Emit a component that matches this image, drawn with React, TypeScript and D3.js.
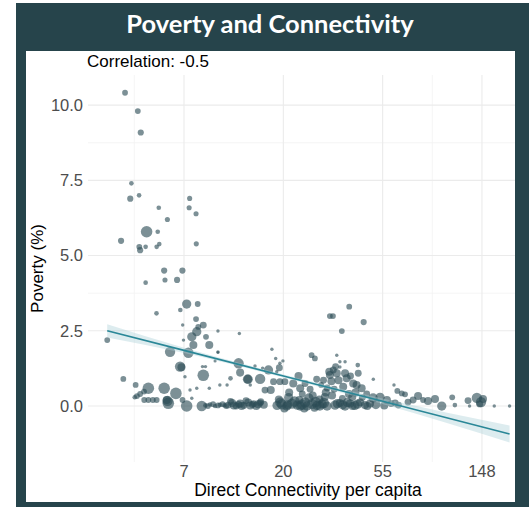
import React from 'react';
import * as d3 from 'd3';

const W = 529;
const H = 515;

// Each row: [direct connectivity per capita, poverty (%), population (millions)]
type Row = [number, number, number];

const highPoverty: Row[] = [
  [4.08, 10.41, 1.4], [4.64, 9.8, 1.4], [4.78, 9.09, 1.6], [4.35, 7.4, 0.9],
  [4.3, 6.89, 1.6], [4.7, 7.0, 0.9], [5.73, 6.59, 0.9], [6.25, 6.2, 1.1],
  [5.07, 5.79, 5.6], [5.67, 5.79, 0.9], [3.92, 5.49, 1.6], [4.71, 5.29, 1.4],
  [4.75, 5.18, 1.6], [5.02, 5.29, 0.9], [5.61, 5.29, 0.9], [5.76, 5.38, 0.9],
  [7.82, 6.9, 1.1], [7.78, 6.59, 1.1], [8.34, 6.39, 1.1], [8.36, 5.39, 1.1],
  [6.05, 4.5, 1.6], [7.27, 4.5, 1.6], [6.1, 4.19, 1.1], [6.89, 4.19, 1.6],
  [5.02, 4.1, 0.9], [7.59, 3.39, 3.6], [8.48, 3.39, 1.4], [7.12, 3.19, 0.9],
  [5.6, 3.08, 0.9], [32.1, 2.99, 1.4], [33.1, 2.99, 1.4], [39.0, 3.3, 1.4],
  [45.1, 2.79, 1.6], [36.2, 2.49, 1.4],
];

const midPoverty: Row[] = [
  [8.34, 2.89, 1.4], [7.29, 2.69, 0.5], [8.97, 2.69, 2.0], [8.53, 2.63, 1.4],
  [8.4, 2.47, 3.6], [7.99, 2.3, 3.6], [9.22, 2.3, 1.4], [7.35, 2.19, 0.5],
  [9.53, 2.03, 2.7], [8.12, 2.03, 2.7], [6.42, 1.8, 4.5], [7.72, 1.77, 4.5],
  [10.4, 1.8, 0.5], [7.1, 1.31, 4.5], [7.2, 1.29, 2.7], [3.41, 2.19, 1.4],
  [4.01, 0.9, 1.4], [8.9, 1.31, 0.5], [9.17, 1.31, 0.5], [8.97, 1.02, 5.6],
  [12.8, 1.42, 4.5], [13.0, 1.11, 2.7], [14.0, 0.89, 3.6], [14.1, 0.89, 3.6],
  [15.9, 0.9, 4.5], [12.9, 2.41, 0.5], [10.4, 2.49, 0.5], [10.1, 1.5, 0.4],
  [10.4, 1.78, 0.4], [7.46, 0.97, 0.5], [11.8, 0.92, 0.9], [14.4, 0.7, 0.5],
];

const lowPovertyLeft: Row[] = [
  [4.54, 0.7, 1.4], [5.16, 0.59, 5.6], [6.05, 0.59, 5.6], [6.81, 0.42, 5.6],
  [4.94, 0.48, 1.4], [4.75, 0.4, 1.4], [4.6, 0.33, 1.4], [4.5, 0.29, 0.9],
  [4.95, 0.2, 1.4], [5.16, 0.2, 1.4], [5.4, 0.2, 1.4], [5.61, 0.2, 1.4],
  [6.21, 0.2, 2.7], [6.31, 0.09, 5.6], [6.26, 0.17, 4.5], [7.28, 0.2, 1.4],
  [7.59, 0.0, 5.6], [8.83, 0.0, 4.5], [7.85, 0.53, 0.5], [8.4, 0.59, 0.5],
  [9.53, 0.59, 0.5], [10.6, 0.7, 0.5], [11.4, 0.7, 0.5], [7.99, 0.26, 0.5],
];

const midCluster: Row[] = [
  [17.9, 1.89, 0.5], [19.3, 1.27, 2.0], [17.3, 1.2, 3.6], [18.8, 1.14, 0.5],
  [19.4, 1.42, 0.5], [20.0, 1.5, 0.5], [18.6, 1.58, 0.5], [23.4, 1.0, 2.7],
  [26.7, 1.69, 1.4], [27.6, 1.58, 1.4], [18.2, 0.81, 2.0], [19.4, 0.81, 2.0],
  [20.4, 0.81, 2.0], [22.2, 0.75, 2.7], [23.8, 0.59, 2.7], [25.0, 0.75, 2.0],
  [26.3, 0.56, 2.0], [28.1, 0.89, 2.0], [31.9, 1.14, 2.7], [32.1, 1.03, 2.7],
  [34.4, 1.09, 2.7], [37.4, 1.09, 2.7], [38.0, 0.92, 2.7], [35.5, 1.47, 0.5],
  [37.4, 1.47, 0.5], [42.5, 1.36, 0.9], [42.7, 1.09, 2.0], [34.4, 1.69, 0.5],
  [35.0, 0.86, 2.7], [36.7, 0.64, 2.7], [40.6, 0.75, 2.7], [42.0, 0.7, 2.7],
  [44.2, 0.59, 2.7], [30.1, 0.86, 2.0], [31.2, 0.6, 2.0], [33.5, 0.56, 2.0],
  [29.4, 0.7, 1.4], [35.5, 1.3, 0.5], [34.0, 1.31, 2.0], [15.1, 1.33, 0.5],
  [16.3, 1.26, 0.5], [16.7, 0.53, 2.0], [17.7, 0.53, 2.7],
  [30.8, 0.45, 2.7], [32.8, 0.35, 2.7], [38.9, 0.4, 2.7], [41.5, 0.45, 2.7],
  [46.5, 0.4, 2.0], [21.3, 0.45, 2.7], [24.3, 0.4, 2.0], [27.0, 0.35, 2.7],
  [32.6, 0.82, 2.7], [39.5, 1.0, 2.0], [33.2, 1.2, 2.0],
];

const zeroBand: Row[] = [
  [9.17, 0.02, 0.9], [9.6, 0.05, 0.9], [10.1, 0.0, 0.9], [10.6, 0.04, 0.9], [11.1, 0.02, 0.9],
  [9.4, 0.0, 1.4], [9.9, 0.06, 1.4], [10.4, 0.02, 1.4], [10.9, 0.06, 1.4], [11.3, 0.0, 1.4],
  [11.5, 0.03, 2.0], [12.0, 0.1, 2.7], [12.5, 0.0, 2.0], [13.0, 0.08, 2.7], [13.5, 0.02, 2.0],
  [14.1, 0.12, 2.7], [14.7, 0.05, 2.0], [15.3, 0.0, 2.7], [15.9, 0.1, 2.0], [16.5, 0.04, 2.7],
  [11.8, 0.15, 2.0], [12.8, 0.05, 2.0], [13.8, 0.18, 2.0], [14.9, 0.08, 2.0], [16.0, 0.14, 2.0],
  [12.2, 0.02, 2.7], [13.2, 0.0, 2.7], [14.4, 0.02, 2.7], [15.6, 0.06, 2.7],
  [18.85, 0.02, 3.6], [19.8, 0.06, 4.5], [20.8, 0.0, 3.6], [21.9, 0.08, 4.5], [23.1, 0.03, 3.6],
  [24.2, 0.05, 4.5], [25.5, 0.0, 3.6], [26.8, 0.07, 4.5], [28.2, 0.02, 3.6], [29.7, 0.06, 3.6],
  [31.2, 0.0, 3.6], [19.2, 0.22, 2.7], [21.2, 0.28, 3.6], [23.6, 0.2, 2.7], [26.0, 0.27, 3.6],
  [28.9, 0.22, 2.7], [30.5, 0.3, 2.7], [20.3, -0.08, 2.7], [24.8, -0.08, 2.7], [27.5, -0.06, 2.7],
  [19.5, 0.12, 4.5], [22.5, 0.15, 4.5], [25.0, 0.12, 4.5], [27.8, 0.14, 4.5], [30.2, 0.1, 4.5],
  [21.0, 0.04, 3.6], [23.8, 0.0, 3.6], [29.0, 0.0, 3.6],
  [33.8, 0.03, 3.6], [35.5, 0.1, 2.7], [37.4, 0.0, 3.6], [39.3, 0.08, 2.7], [41.3, 0.02, 3.6],
  [43.5, 0.12, 2.7], [45.7, 0.03, 2.7], [48.1, 0.08, 2.7], [36.4, 0.25, 2.0], [40.2, 0.3, 2.7],
  [44.5, 0.28, 2.0], [34.6, 0.08, 3.6], [36.5, 0.04, 3.6], [38.3, 0.12, 3.6], [40.3, 0.0, 2.7],
  [42.4, 0.06, 3.6], [46.8, 0.0, 2.7],
];

const rightTail: Row[] = [
  [49.7, 0.89, 0.5], [61.2, 0.7, 0.5], [63.3, 0.5, 1.4], [66.2, 0.42, 1.4],
  [68.4, 0.39, 1.4], [53.2, 0.29, 3.6], [49.6, 0.27, 3.6], [57.0, 0.2, 2.7],
  [61.9, 0.1, 2.0], [70.5, 0.13, 2.0], [74.2, 0.2, 2.0], [78.0, 0.33, 2.7],
  [82.0, 0.2, 1.4], [86.2, 0.17, 2.7], [92.5, 0.23, 2.7], [99.0, 0.0, 3.6],
  [110, 0.29, 1.4], [113, 0.03, 0.9], [129, 0.18, 2.0], [131, 0.0, 0.5],
  [141, 0.27, 4.5], [147, 0.13, 4.5], [150, 0.23, 2.7], [145, 0.07, 2.0],
  [168, 0.0, 0.5], [196, 0.0, 0.5], [51.0, 0.05, 3.6], [55.5, 0.02, 2.7],
  [59.5, 0.08, 2.0], [64.0, 0.03, 2.0],
];

// Linear fit (poverty ~ log connectivity) with its confidence band
const fitConnectivity = [3.41, 7.39, 20.1, 54.6, 196];
const fitPoverty = [2.5, 1.85, 1.0, 0.16, -0.93];
const fitLower = [2.28, 1.76, 0.95, 0.07, -1.21];
const fitUpper = [2.72, 1.94, 1.05, 0.25, -0.65];

const xDomain = [2.81, 207];
const yDomain = [-1.86, 11.0];
const xTicks = [7.389, 20.09, 54.6, 148.4];
const xTickLabels = ['7', '20', '55', '148'];
const xMinorTicks = [4.48, 90.0];
const yTicks = [0, 2.5, 5, 7.5, 10];
const yTickLabels = ['0.0', '2.5', '5.0', '7.5', '10.0'];
const yMinorTicks = [3.75, 8.75];

const title = 'Poverty and Connectivity';
const correlationLabel = 'Correlation: -0.5';
const xTitle = 'Direct Connectivity per capita';
const yTitle = 'Poverty (%)';

export default function App() {
  const left = 88, right = 515, top = 75, bottom = 462;
  const x = d3.scaleLog().base(Math.E).domain(xDomain).range([left, right]);
  const y = d3.scaleLinear().domain(yDomain).range([bottom, top]);
  const r = d3.scaleSqrt().domain([0, 8]).range([0, 6.9]);

  const points: Row[] = [
    ...highPoverty, ...midPoverty, ...lowPovertyLeft, ...midCluster, ...zeroBand, ...rightTail,
  ];

  const idx = fitConnectivity.map((_, i) => i);
  const band = d3.area<number>()
    .x(i => x(fitConnectivity[i]))
    .y0(i => y(fitLower[i]))
    .y1(i => y(fitUpper[i]))
    .curve(d3.curveMonotoneX)(idx) || '';
  const fitLine = d3.line<number>()
    .x(i => x(fitConnectivity[i]))
    .y(i => y(fitPoverty[i]))(idx) || '';

  const sans = '"Liberation Sans", Arial, sans-serif';

  return (
    <svg width={W} height={H} style={{ position: 'absolute', left: 0, top: 0, display: 'block' }}>
      <rect x={0} y={0} width={W} height={H} fill="#ffffff" />
      <rect x={16} y={3} width={W - 16} height={504} fill="#26444b" />
      <rect x={26} y={51} width={489} height={451} fill="#ffffff" />
      <text x={270} y={33} textAnchor="middle" fill="#ffffff"
        style={{ font: '700 25.5px Lato, "Open Sans", sans-serif' }}>{title}</text>

      {/* grid */}
      {yMinorTicks.map(t => (
        <line key={'ym' + t} x1={left} x2={right} y1={y(t)} y2={y(t)} stroke="#f2f2f2" strokeWidth={0.8} />
      ))}
      {xMinorTicks.map(t => (
        <line key={'xm' + t} x1={x(t)} x2={x(t)} y1={top} y2={bottom} stroke="#f2f2f2" strokeWidth={0.8} />
      ))}
      {yTicks.map(t => (
        <line key={'y' + t} x1={left} x2={right} y1={y(t)} y2={y(t)} stroke="#ebebeb" strokeWidth={1.1} />
      ))}
      {xTicks.map(t => (
        <line key={'x' + t} x1={x(t)} x2={x(t)} y1={top} y2={bottom} stroke="#ebebeb" strokeWidth={1.1} />
      ))}

      {/* points */}
      <g>
        {points.map((p, i) => (
          <circle key={i} cx={x(p[0])} cy={y(p[1])} r={r(p[2])} fill="#2b4c55" fillOpacity={0.62} />
        ))}
      </g>

      {/* fit */}
      <path d={band} fill="#a9cfd8" fillOpacity={0.4} />
      <path d={fitLine} fill="none" stroke="#2a8797" strokeWidth={1.6} />

      {/* axes labels */}
      {yTicks.map((t, i) => (
        <text key={'yl' + t} x={83} y={y(t)} dy="0.36em" textAnchor="end" fill="#4d4d4d"
          style={{ font: `16.5px ${sans}` }}>{yTickLabels[i]}</text>
      ))}
      {xTicks.map((t, i) => (
        <text key={'xl' + t} x={x(t)} y={477} textAnchor="middle" fill="#4d4d4d"
          style={{ font: `16.5px ${sans}` }}>{xTickLabels[i]}</text>
      ))}
      <text x={308} y={496} textAnchor="middle" fill="#000" style={{ font: `17.5px ${sans}` }}>{xTitle}</text>
      <text transform={`translate(43,${(top + bottom) / 2}) rotate(-90)`} textAnchor="middle" fill="#000"
        style={{ font: `17px ${sans}` }}>{yTitle}</text>
      <text x={87} y={67} fill="#000" style={{ font: `17px ${sans}` }}>{correlationLabel}</text>
    </svg>
  );
}
